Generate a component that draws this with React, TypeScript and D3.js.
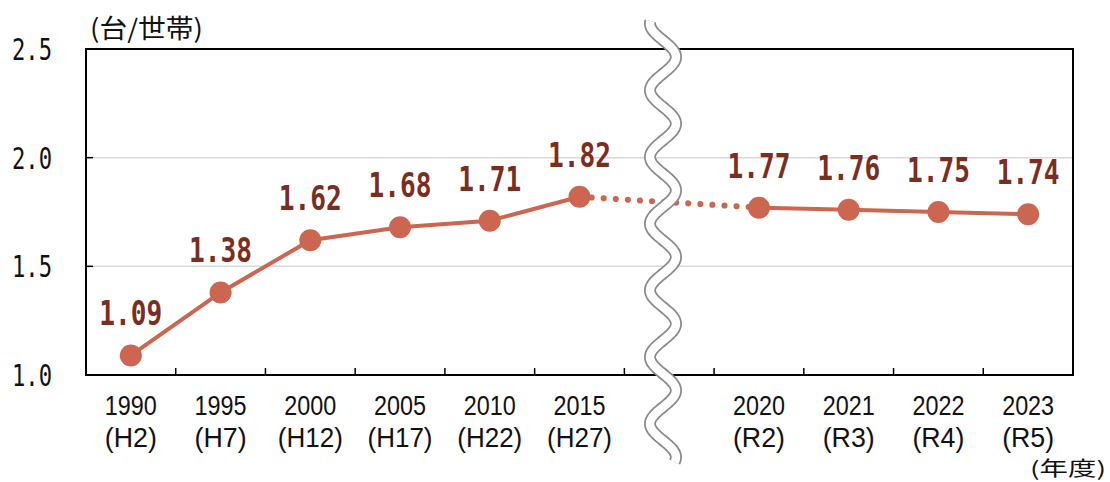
import React, { useRef, useEffect } from 'react';
import * as d3 from 'd3';

// chart data
const years = ['1990', '1995', '2000', '2005', '2010', '2015', '', '2020', '2021', '2022', '2023'];
const eras = ['(H2)', '(H7)', '(H12)', '(H17)', '(H22)', '(H27)', '', '(R2)', '(R3)', '(R4)', '(R5)'];
const carsPerHousehold = [1.09, 1.38, 1.62, 1.68, 1.71, 1.82, null, 1.77, 1.76, 1.75, 1.74];
const yTicks = [1.0, 1.5, 2.0, 2.5];

const LINE = '#cc6650';
const LABEL = '#7a2e22';

const App = () => {
  const chart = useRef<SVGSVGElement>(null);

  useEffect(() => {
    const width = 1110,
      height = 482;
    const margin = { top: 49, right: 37, bottom: 107, left: 86 };

    const svg = d3.select(chart.current);
    svg.selectAll('*').remove();

    var x = d3
      .scaleBand()
      .domain(years.map((d, i) => String(i)))
      .range([margin.left, width - margin.right])
      .paddingInner(0)
      .paddingOuter(0);

    var y = d3
      .scaleLinear()
      .domain([1.0, 2.5])
      .range([height - margin.bottom, margin.top]);

    const cx = (i) => x(String(i)) + x.bandwidth() / 2;
    const x0 = margin.left,
      x1 = width - margin.right,
      yb = y(1.0),
      yt = y(2.5);

    // grid lines
    svg
      .append('g')
      .selectAll('line')
      .data(yTicks.filter((t) => t > 1 && t < 2.5))
      .enter()
      .append('line')
      .attr('x1', x0)
      .attr('x2', x1)
      .attr('y1', (d) => y(d))
      .attr('y2', (d) => y(d))
      .attr('stroke', '#d9d9d9')
      .attr('stroke-width', 1.5);

    // y ticks (inward)
    svg
      .append('g')
      .selectAll('line')
      .data(yTicks.filter((t) => t > 1))
      .enter()
      .append('line')
      .attr('x1', x0)
      .attr('x2', x0 + 7)
      .attr('y1', (d) => y(d))
      .attr('y2', (d) => y(d))
      .attr('stroke', '#000')
      .attr('stroke-width', 1.5);

    // x ticks on band boundaries
    svg
      .append('g')
      .selectAll('line')
      .data(years.slice(1))
      .enter()
      .append('line')
      .attr('x1', (d, i) => x(String(i + 1)))
      .attr('x2', (d, i) => x(String(i + 1)))
      .attr('y1', yb)
      .attr('y2', yb - 7)
      .attr('stroke', '#000')
      .attr('stroke-width', 1.5);

    // frame
    svg
      .append('rect')
      .attr('x', x0)
      .attr('y', yt)
      .attr('width', x1 - x0)
      .attr('height', yb - yt)
      .attr('fill', 'none')
      .attr('stroke', '#000')
      .attr('stroke-width', 2);

    // y tick labels
    svg
      .append('g')
      .selectAll('text')
      .data(yTicks)
      .enter()
      .append('text')
      .attr('x', 52)
      .attr('y', (d) => y(d) + 11)
      .attr('text-anchor', 'end')
      .attr('font-family', 'DejaVu Sans Mono')
      .attr('font-size', 30)
      .attr('textLength', 40)
      .attr('lengthAdjust', 'spacingAndGlyphs')
      .attr('fill', '#111')
      .text((d) => d.toFixed(1));

    // x labels
    const xl = svg.append('g').attr('font-family', 'Liberation Sans').attr('fill', '#111');
    years.forEach((yr, i) => {
      if (!yr) return;
      xl.append('text')
        .attr('x', cx(i))
        .attr('y', 415)
        .attr('text-anchor', 'middle')
        .attr('font-size', 28)
        .attr('textLength', 52)
        .attr('lengthAdjust', 'spacingAndGlyphs')
        .text(yr);
      const e = eras[i];
      xl.append('text')
        .attr('x', cx(i))
        .attr('y', 447)
        .attr('text-anchor', 'middle')
        .attr('font-size', 28)
        .attr('textLength', 26 + 13 * (e.length - 2))
        .attr('lengthAdjust', 'spacingAndGlyphs')
        .text(e);
    });

    // unit labels
    svg
      .append('text')
      .attr('x', 90)
      .attr('y', 38)
      .attr('font-family', 'Noto Sans CJK JP')
      .attr('font-size', 26)
      .attr('textLength', 113)
      .attr('lengthAdjust', 'spacingAndGlyphs')
      .attr('fill', '#111')
      .text('(台/世帯)');

    svg
      .append('text')
      .attr('x', 1106)
      .attr('y', 476)
      .attr('text-anchor', 'end')
      .attr('font-family', 'Noto Sans CJK JP')
      .attr('font-size', 20)
      .attr('textLength', 76)
      .attr('lengthAdjust', 'spacingAndGlyphs')
      .attr('fill', '#111')
      .text('(年度)');

    const pts = carsPerHousehold
      .map((v, i) => ({ v, i }))
      .filter((d) => d.v !== null);
    const line = d3
      .line()
      .x((d) => cx(d.i))
      .y((d) => y(d.v));

    const before = pts.filter((d) => d.i < 6);
    const after = pts.filter((d) => d.i > 6);
    const bridge = [before[before.length - 1], after[0]];

    // dotted bridge over the break
    svg
      .append('path')
      .attr('d', line(bridge))
      .attr('fill', 'none')
      .attr('stroke', LINE)
      .attr('stroke-width', 6)
      .attr('stroke-linecap', 'round')
      .attr('stroke-dasharray', '0.1 12');

    [before, after].forEach((seg) => {
      svg
        .append('path')
        .attr('d', line(seg))
        .attr('fill', 'none')
        .attr('stroke', LINE)
        .attr('stroke-width', 4);
    });

    // wavy break mark
    const wave = [];
    for (let yy = 21; yy <= 462; yy += 1) {
      wave.push([663 - 13 * Math.cos((2 * Math.PI * (yy - 23.6)) / 66.7), yy]);
    }
    const wl = d3.line().curve(d3.curveBasis);
    svg
      .append('path')
      .attr('d', wl(wave))
      .attr('fill', 'none')
      .attr('stroke', '#8a8a8a')
      .attr('stroke-width', 12);
    svg
      .append('path')
      .attr('d', wl(wave))
      .attr('fill', 'none')
      .attr('stroke', '#fff')
      .attr('stroke-width', 8.5);

    // markers
    svg
      .append('g')
      .selectAll('circle')
      .data(pts)
      .enter()
      .append('circle')
      .attr('cx', (d) => cx(d.i))
      .attr('cy', (d) => y(d.v))
      .attr('r', 11)
      .attr('fill', LINE);

    // value labels
    svg
      .append('g')
      .selectAll('text')
      .data(pts)
      .enter()
      .append('text')
      .attr('x', (d) => cx(d.i))
      .attr('y', (d) => y(d.v) - 30)
      .attr('text-anchor', 'middle')
      .attr('font-family', 'DejaVu Sans Mono')
      .attr('font-weight', 'bold')
      .attr('font-size', 34)
      .attr('textLength', 63)
      .attr('lengthAdjust', 'spacingAndGlyphs')
      .attr('fill', LABEL)
      .text((d) => d.v.toFixed(2));
  }, []);

  return (
    <svg
      ref={chart}
      width={1110}
      height={482}
      style={{ position: 'absolute', left: 0, top: 0, background: '#fff' }}
    ></svg>
  );
};

export default App;
